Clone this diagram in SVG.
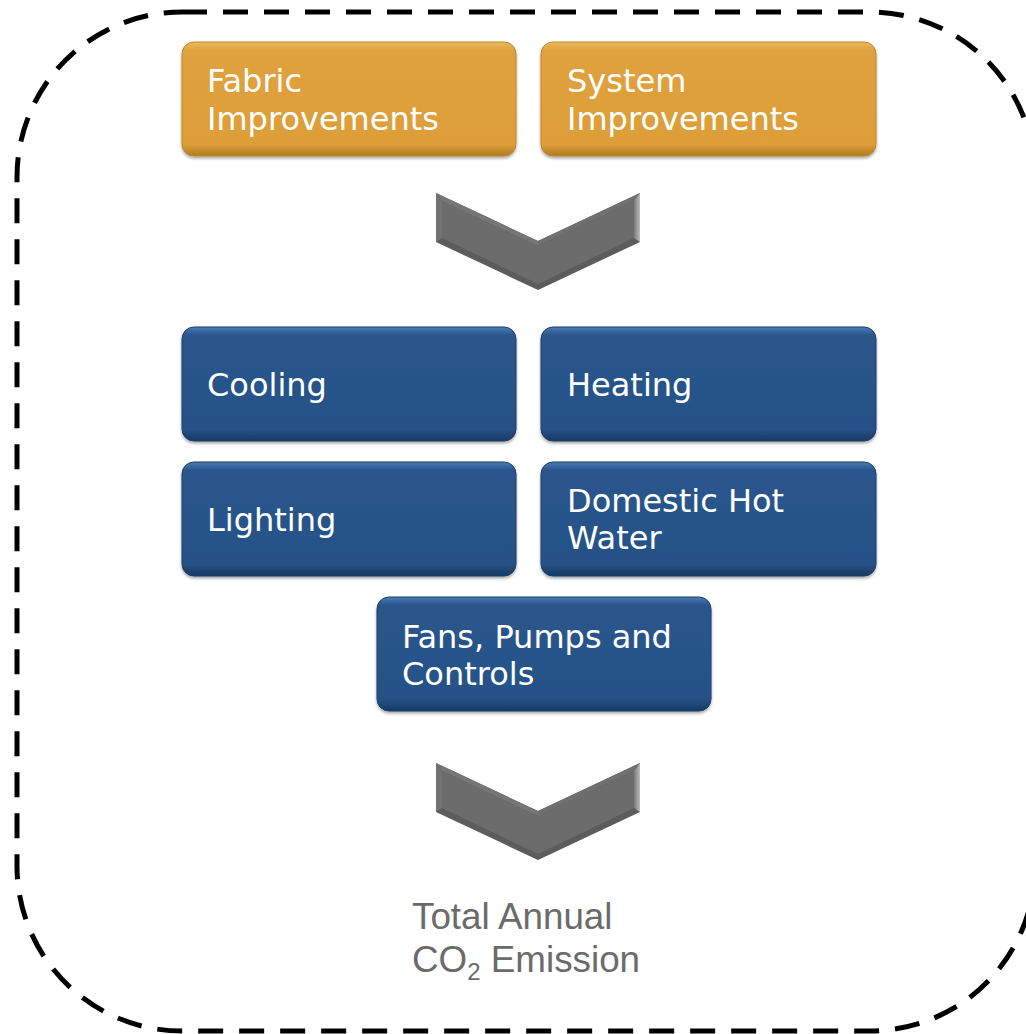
<svg xmlns="http://www.w3.org/2000/svg" width="1026" height="1034" viewBox="0 0 1026 1034">
  <style>
    .lbl { font-family: "DejaVu Sans", Verdana, sans-serif; font-size: 32px; fill: #ffffff; }
    .out { font-family: "Liberation Sans", Arial, sans-serif; font-size: 36.8px; fill: #6b6b6b; }
    .orange { fill: url(#gOrange); stroke: #c08526; stroke-width: 1; filter: url(#shadow); }
    .blue { fill: url(#gBlue); stroke: #1c3f6b; stroke-width: 1; filter: url(#shadow); }
  </style>
  <defs>
    <linearGradient id="gOrange" x1="0" y1="0" x2="0" y2="1">
      <stop offset="0" stop-color="#ecb963"/>
      <stop offset="0.07" stop-color="#e0a23d"/>
      <stop offset="0.9" stop-color="#dd9e39"/>
      <stop offset="1" stop-color="#b07b22"/>
    </linearGradient>
    <linearGradient id="gBlue" x1="0" y1="0" x2="0" y2="1">
      <stop offset="0" stop-color="#4a7bb5"/>
      <stop offset="0.07" stop-color="#2a568d"/>
      <stop offset="0.9" stop-color="#265186"/>
      <stop offset="1" stop-color="#173a63"/>
    </linearGradient>
    <linearGradient id="gEnd" x1="0" y1="0" x2="1" y2="0">
      <stop offset="0" stop-color="#7a7a7a"/>
      <stop offset="1" stop-color="#bdbdbd"/>
    </linearGradient>
    <filter id="shadow" x="-5%" y="-10%" width="110%" height="125%">
      <feGaussianBlur in="SourceAlpha" stdDeviation="1.5"/>
      <feOffset dx="0" dy="1.5" result="b"/>
      <feComponentTransfer><feFuncA type="linear" slope="0.35"/></feComponentTransfer>
      <feMerge><feMergeNode/><feMergeNode in="SourceGraphic"/></feMerge>
    </filter>
    <g id="chev">
      <polygon points="436,193 538,241 640,193 640,242 538,290 436,242" fill="#5c5c5c"/>
      <polygon points="436,193 538,241 538,246 442,201" fill="#767676"/>
      <polygon points="538,241 640,193 634,201 538,246" fill="#707070"/>
      <polygon points="640,193 640,242 634,238 634,201" fill="url(#gEnd)"/>
      <polygon points="436,193 442,201 442,238 436,242" fill="#737373"/>
      <polygon points="442,201 538,246 634,201 634,238 538,284 442,238" fill="#6c6c6c"/>
    </g>
  </defs>

  <g id="border">
    <rect x="17" y="12" width="1018" height="1019" rx="165" ry="165" fill="none" stroke="#000000" stroke-width="5" stroke-dasharray="25 16"/>
  </g>

  <g id="connectors">
    <use href="#chev"/>
    <use href="#chev" transform="translate(0,570)"/>
  </g>

  <g id="fabric">
    <rect class="orange" x="182" y="42" width="334" height="114" rx="12"/>
    <text class="lbl" x="207" y="92">Fabric</text>
    <text class="lbl" x="207" y="130">Improvements</text>
  </g>
  <g id="system">
    <rect class="orange" x="541" y="42" width="335" height="114" rx="12"/>
    <text class="lbl" x="567" y="92">System</text>
    <text class="lbl" x="567" y="130">Improvements</text>
  </g>

  <g id="cooling">
    <rect class="blue" x="182" y="327" width="334" height="114" rx="12"/>
    <text class="lbl" x="207" y="396">Cooling</text>
  </g>
  <g id="heating">
    <rect class="blue" x="541" y="327" width="335" height="114" rx="12"/>
    <text class="lbl" x="567" y="396">Heating</text>
  </g>
  <g id="lighting">
    <rect class="blue" x="182" y="462" width="334" height="114" rx="12"/>
    <text class="lbl" x="207" y="531">Lighting</text>
  </g>
  <g id="dhw">
    <rect class="blue" x="541" y="462" width="335" height="114" rx="12"/>
    <text class="lbl" x="567" y="512">Domestic Hot</text>
    <text class="lbl" x="567" y="549">Water</text>
  </g>
  <g id="fans">
    <rect class="blue" x="377" y="597" width="334" height="114" rx="12"/>
    <text class="lbl" x="402" y="648">Fans, Pumps and</text>
    <text class="lbl" x="402" y="685">Controls</text>
  </g>

  <g id="output">
    <text class="out" x="412" y="929">Total Annual</text>
    <text class="out" x="412" y="972">CO<tspan font-size="24px" dy="8">2</tspan><tspan dy="-8"> Emission</tspan></text>
  </g>
</svg>
